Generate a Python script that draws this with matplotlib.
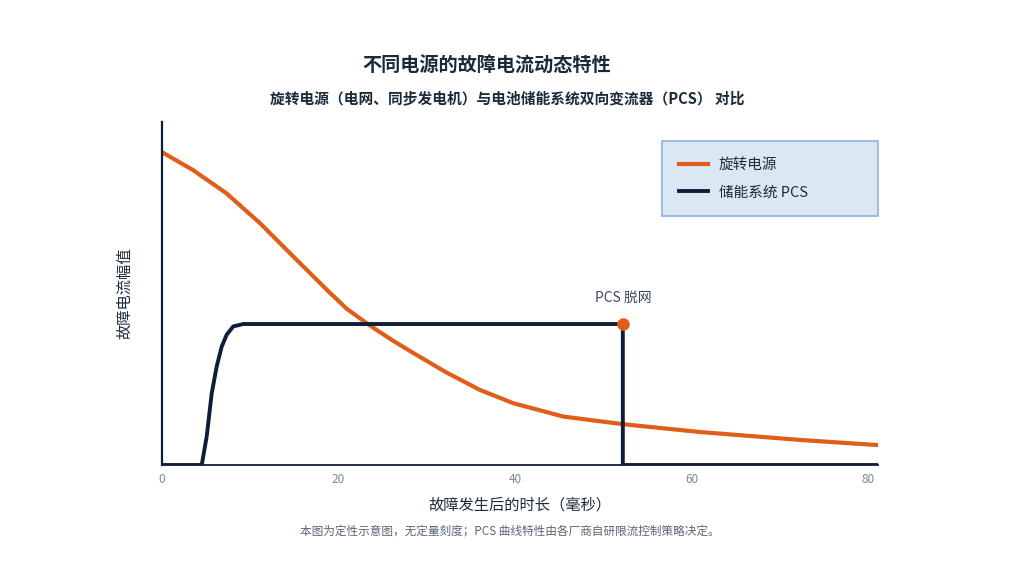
import numpy as np
import matplotlib.pyplot as plt

plt.rcParams['font.family'] = ['Noto Sans CJK SC', 'DejaVu Sans']

# 旋转电源 故障电流（示意）
rot_t = [0, 3.5, 7.3, 11.1, 14.9, 18.7, 20.9, 23.2, 24.7, 26.2, 28.5, 32.2, 36.0, 39.8, 45.5, 52.2, 61, 72.3, 81.1]
rot_i = [0.912, 0.860, 0.792, 0.705, 0.607, 0.510, 0.456, 0.413, 0.387, 0.362, 0.326, 0.270, 0.219, 0.180, 0.141, 0.119, 0.096, 0.073, 0.058]

# 储能系统 PCS
pcs_t = [0, 4.5, 5.06, 5.63, 6.19, 6.76, 7.33, 8.07, 9.2, 52.2, 52.2, 81.1]
pcs_i = [0, 0, 0.083, 0.209, 0.287, 0.345, 0.380, 0.404, 0.411, 0.411, 0, 0]

trip_t, trip_i = 52.2, 0.411
xticks = [0, 20, 40, 60, 80]

orange = '#e05d1a'
navy = '#0f1e38'
text_c = '#1b2a3a'

fig = plt.figure(figsize=(10.3, 5.79), dpi=100)
ax = fig.add_axes([0.1573, 0.1969, 0.6951, 0.5924])

ax.plot(rot_t, rot_i, color=orange, lw=3, label='旋转电源', solid_joinstyle='round')
ax.plot(pcs_t, pcs_i, color=navy, lw=2.8, label='储能系统 PCS', solid_joinstyle='round')
ax.plot(trip_t, trip_i, 'o', color=orange, ms=8, zorder=5)
ax.text(trip_t, trip_i + 0.055, 'PCS 脱网', ha='center', va='bottom', fontsize=10, color='#3a4a5c')

ax.set_xlim(0, 81.1)
ax.set_ylim(0, 1)
ax.set_xticks(xticks)
ax.set_yticks([])
ax.tick_params(axis='x', length=0, labelsize=8.5, labelcolor='#7d8796', pad=6)
for s in ['top', 'right']:
    ax.spines[s].set_visible(False)
ax.spines['left'].set_color(navy)
ax.spines['left'].set_linewidth(1.6)
ax.spines['bottom'].set_color(navy)
ax.spines['bottom'].set_linewidth(1.3)

ax.set_xlabel('故障发生后的时长（毫秒）', fontsize=11, color=text_c, labelpad=7)
ax.set_ylabel('故障电流幅值', fontsize=11, color=text_c, labelpad=21)

leg = ax.legend(loc='upper left', bbox_to_anchor=(0.698, 0.945, 0.302, 0.0), mode='expand',
                fontsize=10.5, frameon=True, fancybox=False, handlelength=2.0, borderpad=1.15,
                labelspacing=0.95, handletextpad=0.75, borderaxespad=0)
leg.get_frame().set_facecolor('#dce7f4')
leg.get_frame().set_edgecolor('#8fb3e0')
leg.get_frame().set_linewidth(1.2)
leg.get_frame().set_alpha(1)
for t in leg.get_texts():
    t.set_color(text_c)

fig.text(0.4725, 0.885, '不同电源的故障电流动态特性', ha='center', va='center',
         fontsize=13.8, fontweight='bold', color=text_c)
fig.text(0.4925, 0.831, '旋转电源（电网、同步发电机）与电池储能系统双向变流器（PCS） 对比',
         ha='center', va='center', fontsize=10.6, fontweight='bold', color=text_c)
fig.text(0.495, 0.083, '本图为定性示意图，无定量刻度；PCS 曲线特性由各厂商自研限流控制策略决定。',
         ha='center', va='center', fontsize=8.4, color='#5a6575')

fig.savefig('out.png', dpi=100, facecolor='white')
